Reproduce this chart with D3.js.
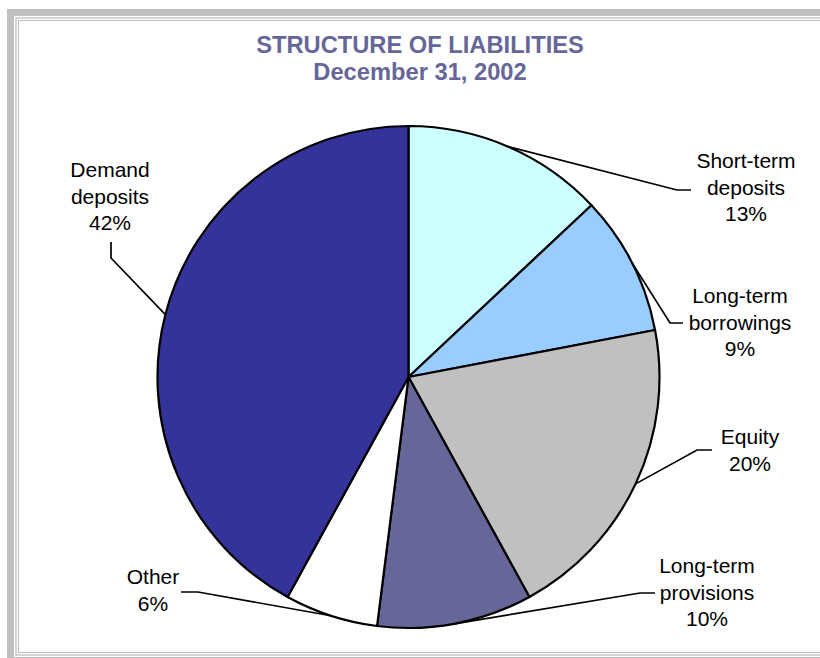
<!DOCTYPE html>
<html>
<head>
<meta charset="utf-8">
<script src="https://cdn.jsdelivr.net/npm/d3@7"></script>
<style>
  html, body { margin: 0; padding: 0; background: #fff; }
  svg { display: block; }
</style>
</head>
<body>
<svg id="chart" width="820" height="658"></svg>
<script>
// Liability structure, shares in percent, clockwise from 12 o'clock
const categories = ["Short-term deposits", "Long-term borrowings", "Equity", "Long-term provisions", "Other", "Demand deposits"];
const values = [13, 9, 20, 10, 6, 42];
const colors = ["#CCFFFF", "#99CCFF", "#C0C0C0", "#666699", "#FFFFFF", "#333399"];
const labelLines = [
  ["Short-term", "deposits", "13%"],
  ["Long-term", "borrowings", "9%"],
  ["Equity", "20%"],
  ["Long-term", "provisions", "10%"],
  ["Other", "6%"],
  ["Demand", "deposits", "42%"]
];
const titleLines = ["STRUCTURE OF LIABILITIES", "December 31, 2002"];

// Label layout: text anchor (center x, first baseline) and leader elbow points
const labelPos = [
  { x: 746, y: 168, elbow: [[677, 190], [691, 190]] },
  { x: 740, y: 303, elbow: [[670, 323], [683, 323]] },
  { x: 750, y: 444, elbow: [[697, 450], [712, 450]] },
  { x: 707, y: 573, elbow: [[640, 593], [655, 593]] },
  { x: 153, y: 584, elbow: [[198, 592], [181, 592]] },
  { x: 110, y: 177, elbow: [[111, 258], [111, 242]] }
];

const svg = d3.select("#chart");

// Frame
const frame = svg.append("g");
frame.append("rect").attr("x", 7).attr("y", 9).attr("width", 830).attr("height", 660)
  .attr("fill", "#c0c0c0");
frame.append("rect").attr("x", 14).attr("y", 16).attr("width", 830).attr("height", 641)
  .attr("fill", "#ffffff");
frame.append("rect").attr("x", 16).attr("y", 18).attr("width", 830).attr("height", 637)
  .attr("fill", "none").attr("stroke", "#c8c8c8").attr("stroke-width", 1.5);
frame.append("rect").attr("x", 18.5).attr("y", 20.5).attr("width", 830).attr("height", 632)
  .attr("fill", "none").attr("stroke", "#bdbdbd").attr("stroke-width", 1);

// Title
const title = svg.append("text")
  .attr("text-anchor", "middle")
  .attr("font-family", "Liberation Sans, Arial, sans-serif")
  .attr("font-weight", "bold")
  .attr("font-size", 23.7)
  .attr("fill", "#666699");
titleLines.forEach((t, i) => {
  title.append("tspan").attr("x", 420).attr("y", 53 + i * 27).text(t);
});

// Pie
const cx = 408.5, cy = 377, r = 251;
const pie = d3.pie().sort(null).value(d => d)(values);
const arc = d3.arc().innerRadius(0).outerRadius(r);

const g = svg.append("g").attr("transform", `translate(${cx},${cy})`);
g.selectAll("path.slice")
  .data(pie)
  .join("path")
  .attr("class", "slice")
  .attr("d", arc)
  .attr("fill", (d, i) => colors[i])
  .attr("stroke", "#000")
  .attr("stroke-width", 2.2)
  .attr("stroke-linejoin", "round");

// Leader lines from slice mid-angle on the rim to the label elbow
const leaders = svg.append("g");
pie.forEach((d, i) => {
  const a = (d.startAngle + d.endAngle) / 2;
  const p0 = [cx + r * Math.sin(a), cy - r * Math.cos(a)];
  const pts = [p0, ...labelPos[i].elbow];
  leaders.append("path")
    .attr("d", d3.line()(pts))
    .attr("fill", "none")
    .attr("stroke", "#000")
    .attr("stroke-width", 1.7);
});

// Labels
const labels = svg.append("g")
  .attr("font-family", "Liberation Sans, Arial, sans-serif")
  .attr("font-size", 21)
  .attr("fill", "#000")
  .attr("text-anchor", "middle");
labelLines.forEach((lines, i) => {
  const t = labels.append("text");
  lines.forEach((s, j) => {
    t.append("tspan").attr("x", labelPos[i].x).attr("y", labelPos[i].y + j * 26.7).text(s);
  });
});
</script>
</body>
</html>
